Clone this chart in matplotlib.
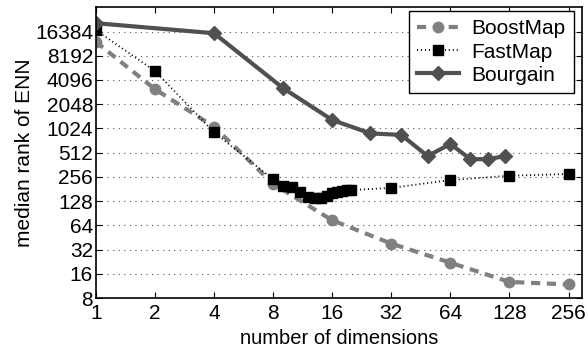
import numpy as np
import matplotlib.pyplot as plt
from matplotlib.ticker import FixedLocator, NullLocator

plt.rcParams['font.family'] = ['Liberation Sans', 'DejaVu Sans']

# BoostMap
dims_boost = [1, 2, 4, 8, 16, 32, 64, 128, 256]
rank_boost = [12200, 3150, 1075, 210, 74, 38, 22, 12.7, 11.8]

# FastMap
dims_fast = [1, 2, 4, 8, 9, 10, 11, 12, 13, 14, 15, 16, 17, 18, 19, 20, 32, 64, 128, 256]
rank_fast = [17000, 5300, 917, 239, 197, 190, 168, 145, 139, 139, 150, 160, 168, 172, 174, 176, 187, 234, 265, 278]

# Bourgain
dims_bour = [1, 4, 9, 16, 25, 36, 49, 64, 81, 100, 121]
rank_bour = [20800, 15600, 3240, 1305, 890, 850, 465, 657, 425, 425, 465]

xticks = [1, 2, 4, 8, 16, 32, 64, 128, 256]
yticks = [8, 16, 32, 64, 128, 256, 512, 1024, 2048, 4096, 8192, 16384]

fig = plt.figure(figsize=(5.88, 3.47), dpi=100)
ax = fig.add_axes([0.163, 0.141, 0.826, 0.838])

ax.plot(dims_boost, rank_boost, color='#808080', linestyle=(0, (2.2, 1.6)), linewidth=3,
        marker='o', markersize=7.5, label='BoostMap')
ax.plot(dims_fast, rank_fast, color='black', linestyle=(0, (0.6, 1.6)), linewidth=1.3,
        marker='s', markersize=7, label='FastMap')
ax.plot(dims_bour, rank_bour, color='#505050', linestyle='-', linewidth=3,
        marker='D', markersize=7.5, label='Bourgain')

ax.set_xscale('log', base=2)
ax.set_yscale('log', base=2)
ax.set_xlim(1, 298)
ax.set_ylim(8, 32768)
ax.xaxis.set_major_locator(FixedLocator(xticks))
ax.yaxis.set_major_locator(FixedLocator(yticks))
ax.xaxis.set_minor_locator(NullLocator())
ax.yaxis.set_minor_locator(NullLocator())
ax.set_xticklabels([str(t) for t in xticks])
ax.set_yticklabels([str(t) for t in yticks])
ax.tick_params(direction='in', top=True, right=True, labelsize=15, length=4)
ax.tick_params(axis='y', pad=2)
ax.tick_params(axis='x', pad=4)
ax.yaxis.grid(True, linestyle=(0, (1, 4)), color='#555555', linewidth=0.8)
for s in ax.spines.values():
    s.set_linewidth(1.2)

ax.set_xlabel('number of dimensions', fontsize=14.5)
ax.xaxis.set_label_coords(0.5, -0.106)
ax.set_ylabel('median rank of ENN', fontsize=15, labelpad=1)

leg = ax.legend(loc='upper right', bbox_to_anchor=(0.984, 0.987), fontsize=15,
                fancybox=False, edgecolor='black', framealpha=1, borderpad=0.4,
                labelspacing=0.2, handlelength=2.0, handletextpad=0.6, borderaxespad=0)
leg.get_frame().set_linewidth(1.0)

fig.savefig('out.png', dpi=100)
